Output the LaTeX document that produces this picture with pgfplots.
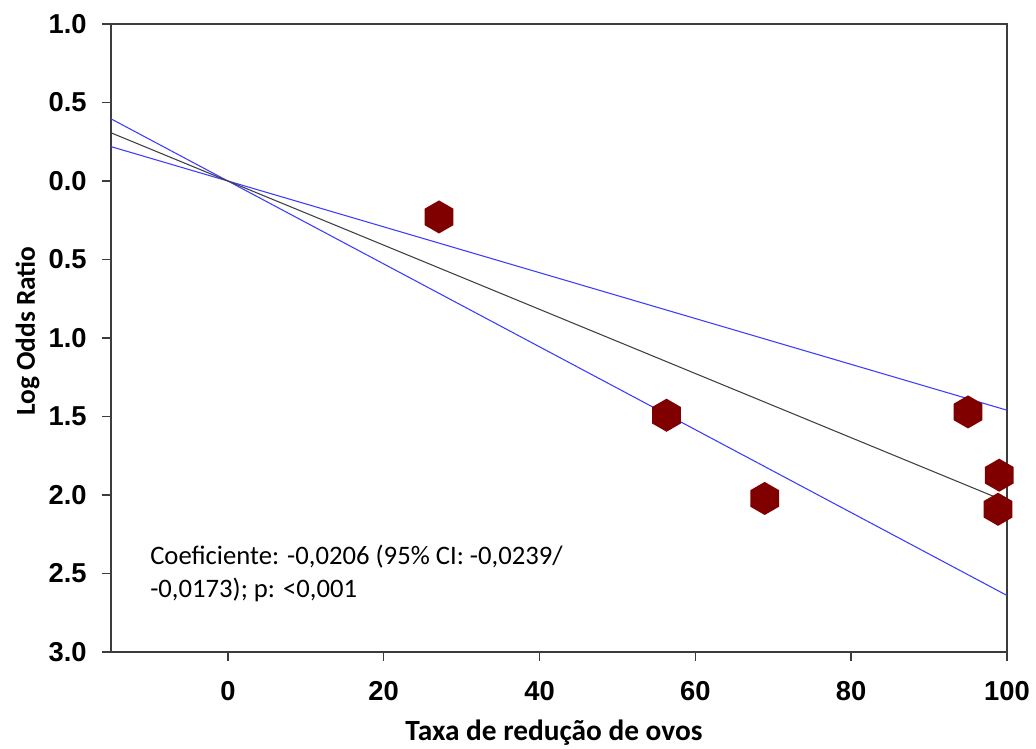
\documentclass[border=0pt]{standalone}
\usepackage{pgfplots}
\pgfplotsset{compat=1.18}
\usepackage{fontspec}
\setmainfont{Carlito}
\newfontfamily\arialfont{Liberation Sans}
\definecolor{maroonmk}{RGB}{128,0,0}
\definecolor{cilblue}{RGB}{60,60,255}
\definecolor{axgray}{RGB}{60,60,60}
\pgfdeclareplotmark{hexa}{%
  \pgfpathmoveto{\pgfpointpolar{90}{\pgfplotmarksize}}%
  \pgfpathlineto{\pgfpointpolar{150}{\pgfplotmarksize}}%
  \pgfpathlineto{\pgfpointpolar{210}{\pgfplotmarksize}}%
  \pgfpathlineto{\pgfpointpolar{270}{\pgfplotmarksize}}%
  \pgfpathlineto{\pgfpointpolar{330}{\pgfplotmarksize}}%
  \pgfpathlineto{\pgfpointpolar{30}{\pgfplotmarksize}}%
  \pgfpathclose
  \pgfusepathqfill}
\begin{document}
\begin{tikzpicture}[x=0.75pt,y=0.75pt]
\useasboundingbox (0,0) rectangle (1036,749);
\begin{axis}[
  at={(83.25pt,72.75pt)}, anchor=south west,
  scale only axis, width=672pt, height=471pt,
  xmin=-15, xmax=100, ymin=-3, ymax=1,
  axis line style={axgray, line width=1.1pt},
  xtick={0,20,40,60,80,100},
  xticklabels={0,20,40,60,80,100},
  ytick={-3,-2.5,-2,-1.5,-1,-0.5,0,0.5,1},
  yticklabels={3.0,2.5,2.0,1.5,1.0,0.5,0.0,0.5,1.0},
  tick align=outside,
  xtick pos=bottom, ytick pos=left,
  major tick length=6.75pt,
  tick style={axgray, line width=1.1pt},
  tick label style={font=\arialfont\bfseries\fontsize{20.5}{22}\selectfont, text=black},
  xticklabel style={yshift=-12pt},
  yticklabel style={xshift=-8pt},
  clip=false,
]
\addplot[cilblue, line width=0.8pt] coordinates {(-15,0.219) (100,-1.46)};
\addplot[cilblue, line width=0.8pt] coordinates {(-15,0.396) (100,-2.64)};
\addplot[black!75, line width=0.8pt] coordinates {(-15,0.307) (100,-2.044)};
\addplot[only marks, mark=hexa, mark size=12.4pt, color=maroonmk] coordinates {
  (27.1,-0.229) (56.3,-1.492) (68.9,-2.022) (95.0,-1.471) (99.0,-1.874) (98.85,-2.091)};
\end{axis}
\node[font=\bfseries\fontsize{22}{24}\selectfont, anchor=base] at (554,8) {Taxa de redução de ovos};
\node[font=\bfseries\fontsize{20.5}{24}\selectfont, anchor=base, rotate=90] at (35,418) {Log Odds Ratio};
\node[font=\fontsize{20}{24.75}\selectfont, align=left, anchor=west, inner sep=0pt] at (150,175.5) {Coeficiente: -0,0206 (95\% CI: -0,0239/\\-0,0173); p: <0,001};
\end{tikzpicture}
\end{document}
